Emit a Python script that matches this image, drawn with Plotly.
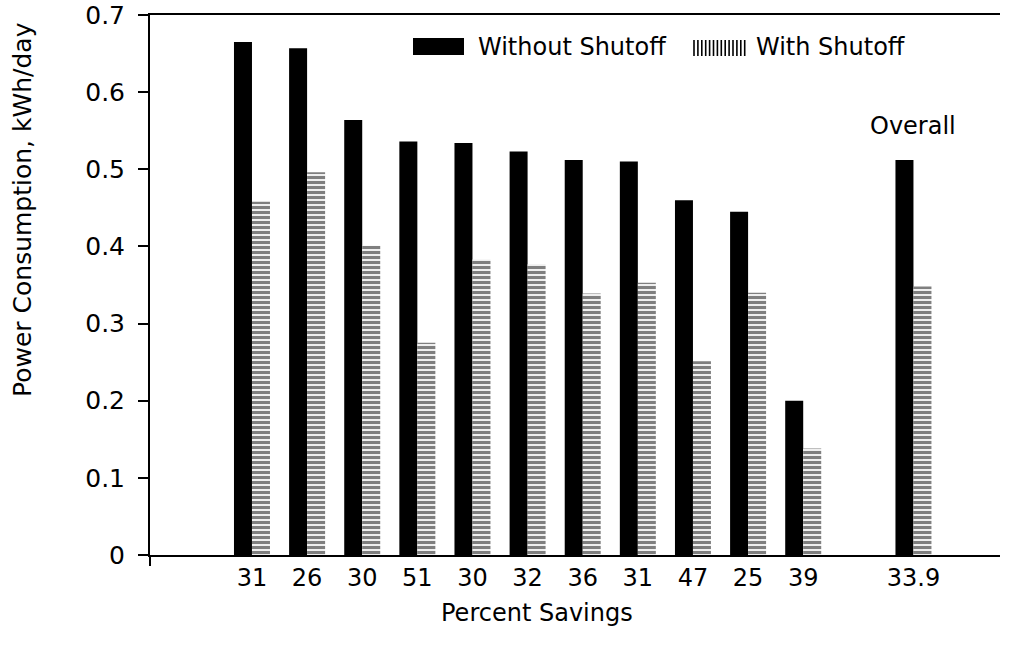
import plotly.graph_objects as go

# Data
positions = [1, 2, 3, 4, 5, 6, 7, 8, 9, 10, 11, 13]
tick_labels = ["31", "26", "30", "51", "30", "32", "36", "31", "47", "25", "39", "33.9"]
without_shutoff = [0.665, 0.657, 0.564, 0.536, 0.534, 0.523, 0.512, 0.510, 0.460, 0.445, 0.200, 0.512]
with_shutoff = [0.458, 0.496, 0.401, 0.275, 0.383, 0.377, 0.339, 0.353, 0.251, 0.340, 0.138, 0.348]
series_names = ["Without Shutoff", "With Shutoff"]

FONT = "DejaVu Sans"
W, H = 1010, 659
PLOT_L, PLOT_R, PLOT_T, PLOT_B = 150, 1000, 15, 555
PW, PH = PLOT_R - PLOT_L, PLOT_B - PLOT_T


def px_x(x):
    return (x - PLOT_L) / PW


def px_y(y):
    return (PLOT_B - y) / PH


fig = go.Figure()
fig.add_trace(go.Bar(
    x=positions, y=without_shutoff, name=series_names[0],
    marker=dict(color="black", line=dict(width=0)), showlegend=False,
))
fig.add_trace(go.Bar(
    x=positions, y=with_shutoff, name=series_names[1],
    marker=dict(color="white", line=dict(width=0),
                pattern=dict(shape="-", fgcolor="black", bgcolor="white",
                             size=5, solidity=0.65)),
    showlegend=False,
))

shapes = [
    dict(type="line", xref="paper", yref="paper", x0=px_x(140), x1=0, y0=0, y1=0,
         line=dict(color="black", width=2)),
    dict(type="line", xref="paper", yref="paper", x0=0, x1=0, y0=0, y1=px_y(566),
         line=dict(color="black", width=2)),
    dict(type="rect", xref="paper", yref="paper", x0=px_x(413), x1=px_x(464),
         y0=px_y(55), y1=px_y(38), fillcolor="black", line=dict(width=0)),
]
for i in range(14):
    xx = 694 + i * 3.9
    shapes.append(dict(type="line", xref="paper", yref="paper",
                       x0=px_x(xx), x1=px_x(xx), y0=px_y(56), y1=px_y(40),
                       line=dict(color="black", width=1.6)))

annotations = [
    dict(text=series_names[0], xref="paper", yref="paper", x=px_x(476), xanchor="left",
         y=px_y(47), yanchor="middle", showarrow=False, font=dict(size=24, family=FONT)),
    dict(text=series_names[1], xref="paper", yref="paper", x=px_x(754), xanchor="left",
         y=px_y(47), yanchor="middle", showarrow=False, font=dict(size=24, family=FONT)),
    dict(text="Percent Savings", xref="paper", yref="paper",
         x=px_x(537), y=px_y(613), yanchor="middle", xanchor="center",
         showarrow=False, font=dict(size=24, family=FONT)),
    dict(text="Power Consumption, kWh/day", xref="paper", yref="paper",
         x=px_x(22), xanchor="center", y=px_y(210), yanchor="middle",
         textangle=-90, showarrow=False, font=dict(size=25, family=FONT)),
    dict(text="Overall", xref="x", yref="paper", x=13, y=px_y(126), yanchor="middle",
         showarrow=False, font=dict(size=24, family=FONT)),
]

fig.update_layout(
    width=W, height=H,
    margin=dict(l=PLOT_L, r=W - PLOT_R, t=PLOT_T, b=H - PLOT_B),
    paper_bgcolor="white", plot_bgcolor="white",
    barmode="group", bargap=0.347, bargroupgap=0,
    font=dict(family=FONT, size=24, color="black"),
    showlegend=False,
    xaxis=dict(range=[-0.85, 14.57], tickmode="array", tickvals=positions,
               ticktext=tick_labels, ticks="", showgrid=False, zeroline=False,
               showline=True, mirror=True, linecolor="black", linewidth=2,
               automargin=False, tickfont=dict(size=24, family=FONT)),
    yaxis=dict(range=[0, 0.7], tickmode="array",
               tickvals=[0, 0.1, 0.2, 0.3, 0.4, 0.5, 0.6, 0.7],
               ticktext=["0", "0.1", "0.2", "0.3", "0.4", "0.5", "0.6", "0.7"],
               ticks="outside", ticklen=10, tickwidth=2, tickcolor="black",
               ticklabelstandoff=8, ticklabeloverflow="allow", automargin=False,
               showgrid=False, zeroline=False, showline=True, linecolor="black",
               linewidth=2, tickfont=dict(size=25, family=FONT)),
    annotations=annotations,
    shapes=shapes,
)

fig.write_html("out.html", config={"displayModeBar": False},
               post_script="document.body.style.margin='0';")
